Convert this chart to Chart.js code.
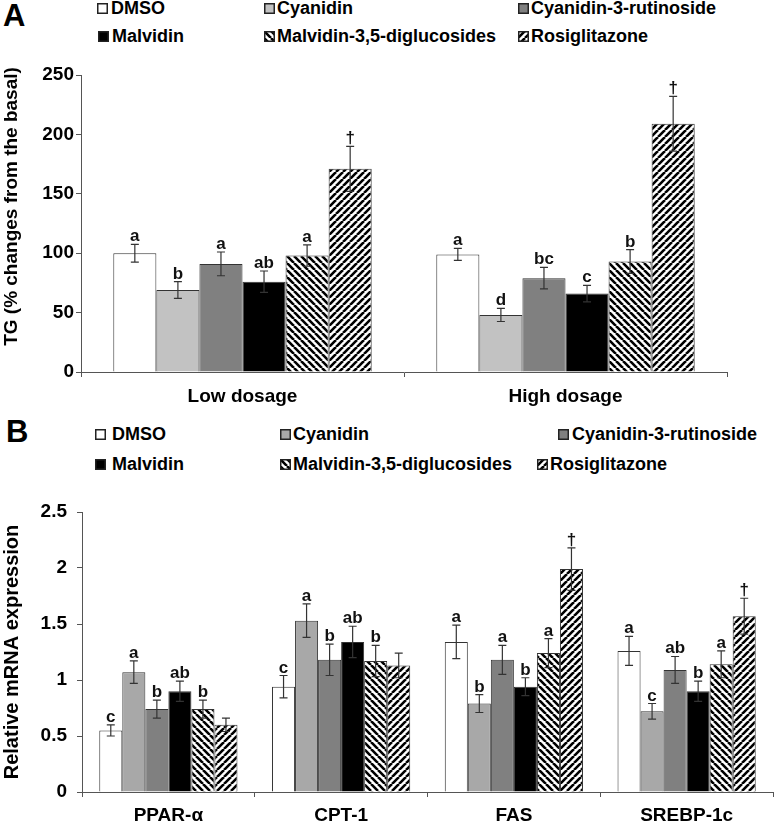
<!DOCTYPE html>
<html lang="en">
<head>
<meta charset="UTF-8">
<title>TG and lipid gene expression</title>
<script src="https://cdn.jsdelivr.net/npm/chart.js"></script>
<style>
  body { margin: 0; background: #fff; font-family: "Liberation Sans", Arial, sans-serif; }
  #page { position: relative; width: 774px; height: 824px; overflow: hidden; }
  .panel { position: absolute; font-weight: bold; font-size: 31px; line-height: 30px; }
  .legbox { position: absolute; }
  .legtext { position: absolute; font-weight: bold; font-size: 18px; line-height: 22px; white-space: nowrap; }
  canvas.chart { position: absolute; left: 0; }
</style>
</head>
<body>
<div id="page">
  <div class="panel" style="left:3px;top:1px">A</div>
  <div class="panel" style="left:6px;top:417px">B</div>
  <canvas id="chartA" class="chart" width="774" height="350" style="top:60px"></canvas>
  <canvas id="chartB" class="chart" width="774" height="334" style="top:490px"></canvas>
</div>

<script>
  // ---- data ----
  const series = ["DMSO", "Cyanidin", "Cyanidin-3-rutinoside", "Malvidin", "Malvidin-3,5-diglucosides", "Rosiglitazone"];

  // panel A: TG (% changes from the basal)
  const tgCategories = ["Low dosage", "High dosage"];
  const tgDMSO = [100, 99];
  const tgCyanidin = [69, 48];
  const tgC3R = [91, 79];
  const tgMalvidin = [76, 66];
  const tgM35 = [98, 93];
  const tgRosi = [171, 209];
  const tgErrDMSO = [7.5, 5];
  const tgErrCyanidin = [7, 5.5];
  const tgErrC3R = [10, 9];
  const tgErrMalvidin = [9, 7];
  const tgErrM35 = [9, 10];
  const tgErrRosi = [19, 23];
  const tgLetDMSO = ["a", "a"];
  const tgLetCyanidin = ["b", "d"];
  const tgLetC3R = ["a", "bc"];
  const tgLetMalvidin = ["ab", "c"];
  const tgLetM35 = ["a", "b"];
  const tgLetRosi = ["\u2020", "\u2020"];
  const tgTicks = [0, 250, 50]; // min, max, step

  // panel B: relative mRNA expression
  const geneCategories = ["PPAR-\u03b1", "CPT-1", "FAS", "SREBP-1c"];
  const mDMSO = [0.55, 0.94, 1.34, 1.26];
  const mCyanidin = [1.07, 1.53, 0.79, 0.72];
  const mC3R = [0.74, 1.18, 1.18, 1.09];
  const mMalvidin = [0.90, 1.34, 0.94, 0.90];
  const mM35 = [0.74, 1.17, 1.24, 1.14];
  const mRosi = [0.60, 1.13, 1.99, 1.57];
  const mErrDMSO = [0.05, 0.10, 0.15, 0.13];
  const mErrCyanidin = [0.10, 0.15, 0.08, 0.07];
  const mErrC3R = [0.08, 0.14, 0.13, 0.12];
  const mErrMalvidin = [0.09, 0.14, 0.08, 0.09];
  const mErrM35 = [0.08, 0.14, 0.13, 0.12];
  const mErrRosi = [0.06, 0.11, 0.19, 0.16];
  const mLetDMSO = ["c", "c", "a", "a"];
  const mLetCyanidin = ["a", "a", "b", "c"];
  const mLetC3R = ["b", "b", "a", "ab"];
  const mLetMalvidin = ["ab", "ab", "b", "b"];
  const mLetM35 = ["b", "b", "a", "a"];
  const mLetRosi = ["", "", "\u2020", "\u2020"];
  const mTicks = [0, 2.5, 0.5];

  const FONT = '"Liberation Sans", Arial, sans-serif';
  Chart.defaults.font.family = FONT;
  Chart.defaults.color = '#000';

  // hatch tiles: "\" and "/"
  function hatchTile(dir) {
    const s = 7;
    const c = document.createElement('canvas');
    c.width = s; c.height = s;
    const g = c.getContext('2d');
    g.fillStyle = '#fff';
    g.fillRect(0, 0, s, s);
    g.strokeStyle = '#000';
    g.lineWidth = 2.6;
    g.beginPath();
    for (let k = -1; k <= 1; k++) {
      if (dir === 'back') { g.moveTo(k * s, 0); g.lineTo(k * s + s, s); }
      else { g.moveTo(k * s, s); g.lineTo(k * s + s, 0); }
    }
    g.stroke();
    return c;
  }
  const tileBack = hatchTile('back');
  const tileFwd = hatchTile('fwd');

  function fills(ctx, lightGrey) {
    return ['#ffffff', lightGrey, '#808080', '#000000',
      ctx.createPattern(tileBack, 'repeat'), ctx.createPattern(tileFwd, 'repeat')];
  }

  // error bars + significance letters
  const errorBars = {
    id: 'errorBars',
    afterDatasetsDraw(chart) {
      const ctx = chart.ctx;
      const y = chart.scales.y;
      ctx.save();
      chart.data.datasets.forEach((ds, i) => {
        const meta = chart.getDatasetMeta(i);
        meta.data.forEach((bar, j) => {
          const v = ds.data[j], e = ds.errors[j];
          const top = y.getPixelForValue(v + e);
          const bot = y.getPixelForValue(v - e);
          ctx.strokeStyle = '#333';
          ctx.lineWidth = 1.2;
          ctx.beginPath();
          ctx.moveTo(bar.x, top); ctx.lineTo(bar.x, bot);
          ctx.moveTo(bar.x - 4, top); ctx.lineTo(bar.x + 4, top);
          ctx.moveTo(bar.x - 4, bot); ctx.lineTo(bar.x + 4, bot);
          ctx.stroke();
          if (ds.letters[j]) {
            ctx.fillStyle = '#111';
            ctx.font = 'bold 17px ' + FONT;
            ctx.textAlign = 'center';
            ctx.textBaseline = 'alphabetic';
            ctx.fillText(ds.letters[j], bar.x, top - 3);
          }
        });
      });
      ctx.restore();
    }
  };

  // rotated y-axis title
  const yTitle = {
    id: 'yTitle',
    afterDraw(chart, args, opts) {
      const ctx = chart.ctx;
      const ca = chart.chartArea;
      ctx.save();
      ctx.translate(opts.x, (ca.top + ca.bottom) / 2 + opts.dy);
      ctx.rotate(-Math.PI / 2);
      ctx.font = 'bold ' + opts.size + 'px ' + FONT;
      ctx.fillStyle = '#000';
      ctx.textAlign = 'center';
      ctx.textBaseline = 'middle';
      ctx.fillText(opts.text, 0, 0);
      ctx.restore();
    }
  };

  function makeChart(id, labels, values, errors, letters, colours, ticks, cfg) {
    const ctx = document.getElementById(id).getContext('2d');
    const datasets = series.map((name, i) => ({
      label: name,
      data: values[i],
      errors: errors[i],
      letters: letters[i],
      backgroundColor: colours[i],
      borderColor: '#333',
      borderWidth: 1,
      categoryPercentage: 0.8,
      barPercentage: 1.0
    }));
    return new Chart(ctx, {
      type: 'bar',
      data: { labels: labels, datasets: datasets },
      plugins: [errorBars, yTitle],
      options: {
        responsive: false,
        animation: false,
        layout: { padding: cfg.padding },
        plugins: {
          legend: { display: false },
          tooltip: { enabled: false },
          yTitle: cfg.title
        },
        scales: {
          x: {
            ticks: { color: '#000', font: { size: 19, weight: 'bold' }, padding: cfg.xPad },
            grid: { drawOnChartArea: false, offset: true, tickLength: 5, color: '#555' },
            border: { color: '#555' },
            afterFit: s => { s.height = cfg.xHeight; }
          },
          y: {
            min: ticks[0], max: ticks[1],
            ticks: {
              stepSize: ticks[2], color: '#000', font: { size: 19, weight: 'bold' }, padding: cfg.yPad,
              callback: v => String(Math.round(v * 10) / 10)
            },
            grid: { drawOnChartArea: false, tickLength: 5, color: '#555' },
            border: { color: '#555' },
            afterFit: s => { s.width = cfg.yWidth; }
          }
        }
      }
    });
  }

  const ctxA = document.getElementById('chartA').getContext('2d');
  makeChart('chartA', tgCategories,
    [tgDMSO, tgCyanidin, tgC3R, tgMalvidin, tgM35, tgRosi],
    [tgErrDMSO, tgErrCyanidin, tgErrC3R, tgErrMalvidin, tgErrM35, tgErrRosi],
    [tgLetDMSO, tgLetCyanidin, tgLetC3R, tgLetMalvidin, tgLetM35, tgLetRosi],
    fills(ctxA, '#c2c2c2'), tgTicks,
    { padding: { top: 15, right: 47, left: 0, bottom: 0 }, xHeight: 38, xPad: 8, yWidth: 81, yPad: 2,
      title: { text: 'TG (% changes from the basal)', x: 12, dy: -17, size: 19 } });

  const ctxB = document.getElementById('chartB').getContext('2d');
  makeChart('chartB', geneCategories,
    [mDMSO, mCyanidin, mC3R, mMalvidin, mM35, mRosi],
    [mErrDMSO, mErrCyanidin, mErrC3R, mErrMalvidin, mErrM35, mErrRosi],
    [mLetDMSO, mLetCyanidin, mLetC3R, mLetMalvidin, mLetM35, mLetRosi],
    fills(ctxB, '#a8a8a8'), mTicks,
    { padding: { top: 22, right: 1, left: 0, bottom: 0 }, xHeight: 32, xPad: 7, yWidth: 82, yPad: 10,
      title: { text: 'Relative mRNA expression', x: 12, dy: 0, size: 20 } });

  // ---- legends (HTML, swatches drawn with the same fills) ----
  const legendA = { rows: [8, 36], box: [97, 264, 518, 98, 264, 518], text: [111, 277, 531, 112, 277, 531] };
  const legendB = { rows: [434, 464], box: [95, 280, 558, 95, 280, 537], text: [112, 293, 572, 112, 293, 550] };

  function buildLegend(leg, lightGrey) {
    const page = document.getElementById('page');
    series.forEach((name, i) => {
      const rowY = leg.rows[i < 3 ? 0 : 1];
      const sw = document.createElement('canvas');
      sw.width = 11; sw.height = 11;
      sw.className = 'legbox';
      sw.style.left = leg.box[i] + 'px';
      sw.style.top = (rowY - 5) + 'px';
      const g = sw.getContext('2d');
      g.fillStyle = fills(g, lightGrey)[i];
      g.fillRect(0, 0, 11, 11);
      g.strokeStyle = '#222';
      g.lineWidth = 1.5;
      g.strokeRect(0.75, 0.75, 9.5, 9.5);
      page.appendChild(sw);
      const t = document.createElement('div');
      t.className = 'legtext';
      t.textContent = name;
      t.style.left = leg.text[i] + 'px';
      t.style.top = (rowY - 11) + 'px';
      page.appendChild(t);
    });
  }
  buildLegend(legendA, '#c2c2c2');
  buildLegend(legendB, '#a8a8a8');
</script>
</body>
</html>
